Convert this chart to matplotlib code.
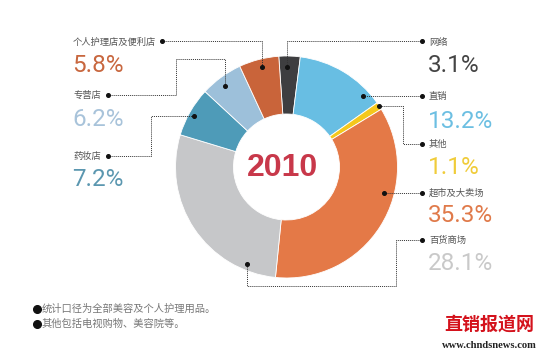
import matplotlib
matplotlib.use('Agg')
import matplotlib.pyplot as plt

# datos (porcentaje por canal, 2010) en orden horario desde arriba
canales = ['网络', '直销', '其他', '超市及大卖场', '百货商场', '药妆店', '专营店', '个人护理店及便利店']
valores = [3.1, 13.2, 1.1, 35.3, 28.1, 7.2, 6.2, 5.8]
colores = ['#3e3e40', '#68bee3', '#f4c81c', '#e47947', '#c6c7c9', '#4e9bb8', '#9dc0da', '#c9643a']
colores_txt = ['#444444', '#6cbfe2', '#f0cc3a', '#e07a4a', '#c9c9c9', '#5b97b0', '#a8c3da', '#c8673f']
notas = ['统计口径为全部美容及个人护理用品。', '其他包括电视购物、美容院等。']
anio = '2010'

CJK = ['Noto Sans CJK SC', 'DejaVu Sans']

fig = plt.figure(figsize=(5.5, 3.56), dpi=100)
ax = fig.add_axes([0, 0, 1, 1])

# donut (coordenadas en pixeles, eje y invertido)
cx, cy, r_ext, r_int = 286.5, 167, 111, 53
ax.pie(valores, colors=colores, center=(cx, cy), radius=r_ext,
       startangle=-94, counterclock=True,
       wedgeprops=dict(width=r_ext - r_int, edgecolor='white', linewidth=0.6))
ax.set_xlim(0, 550)
ax.set_ylim(356, 0)
ax.axis('off')

ax.text(cx - 4, cy + 1, anio, fontsize=23, fontweight='bold', color='#c8384a',
        family='Liberation Sans', ha='center', va='center')

# etiquetas: (indice, x, y_nombre, y_porcentaje)
etiquetas = [
    (7, 73, 42, 65), (6, 73, 95, 119), (5, 73, 156, 179),
    (0, 429, 42, 65), (1, 429, 96, 121), (2, 429, 144, 168),
    (3, 429, 193, 216), (4, 429, 240, 263),
]
for i, x, yn, yp in etiquetas:
    ax.text(x, yn, canales[i], fontsize=6.7, color='#555555', family=CJK,
            ha='left', va='center')
    ax.text(x - 1, yp, f'{valores[i]}%', fontsize=17.5, color=colores_txt[i],
            family='Roboto', ha='left', va='center')

# lineas guia punteadas
guias = [
    [(162, 41), (262, 41), (262, 67)],
    [(108, 95), (176, 95), (176, 59), (225, 59), (225, 86)],
    [(108, 156), (151, 156), (151, 116), (194, 116)],
    [(422, 41), (287, 41), (287, 67)],
    [(422, 96), (363, 96)],
    [(422, 144), (403, 144), (403, 106), (379, 106)],
    [(422, 193), (384, 193)],
    [(422, 240), (396, 240), (396, 286), (247, 286), (247, 264)],
]
for g in guias:
    xs = [p[0] for p in g]
    ys = [p[1] for p in g]
    ax.plot(xs, ys, color='#333333', lw=0.7, ls=(0, (1, 1)))
    ax.plot([xs[0], xs[-1]], [ys[0], ys[-1]], 'o', color='#111111', ms=2.6)

# notas al pie
for k, nota in enumerate(notas):
    ax.plot(37, 309 + 15 * k, 'o', color='#111111', ms=5.5)
    ax.text(42, 309 + 15 * k, nota, fontsize=7.4, color='#777777', family=CJK,
            ha='left', va='center')

# marca de agua
ax.text(489, 324, '直销报道网', fontsize=13, fontweight='bold', color='#d4121c',
        family=CJK, ha='center', va='center')
ax.text(489, 345, 'www.chndsnews.com', fontsize=7.6, fontweight='bold', color='#222222',
        family='Liberation Serif', ha='center', va='center')

fig.savefig('out.png', dpi=100)
plt.close(fig)
